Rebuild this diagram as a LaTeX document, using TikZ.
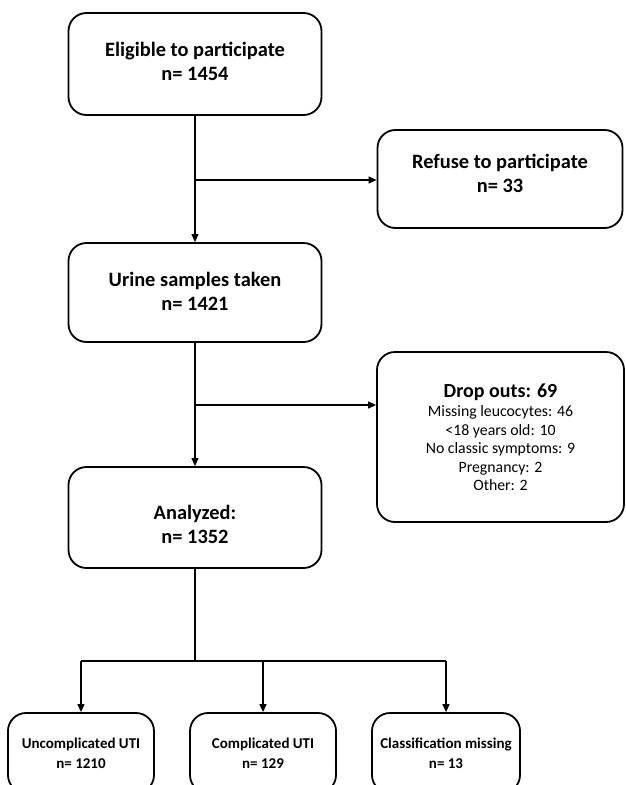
\documentclass[tikz,border=0pt]{standalone}
\usepackage{fontspec}
\setmainfont{Carlito}
\usetikzlibrary{arrows.meta}
\begin{document}
\begin{tikzpicture}[x=1pt,y=-1pt,
  box/.style={draw, line width=1.8pt, rounded corners=18pt, inner sep=0pt},
  bigtxt/.style={align=center, inner sep=0pt, font=\bfseries\fontsize{20.4}{23.5}\selectfont},
  smalltxt/.style={font=\bfseries\fontsize{15}{20}\selectfont, align=center},
  droptxt/.style={font=\fontsize{15.8}{18.5}\selectfont, align=center},
  arr/.style={-{Triangle[length=8pt,width=7pt]}, line width=1.2pt},
  ln/.style={line width=1.2pt}]
\useasboundingbox (0,0) rectangle (625,785);
\clip (0,0) rectangle (625,785);
% main column boxes
\node[box, minimum width=253pt, minimum height=102pt] (elig) at (195,64) {};
\node[box, minimum width=245pt, minimum height=98pt] (refuse) at (500,179) {};
\node[box, minimum width=253pt, minimum height=99pt] (urine) at (195,292.5) {};
\node[box, minimum width=247pt, minimum height=170pt] (drop) at (500.5,437) {};
\node[box, minimum width=253pt, minimum height=101pt] (anal) at (195,517.5) {};
% texts
\node[bigtxt] (eligT) at (195,61.5) {Eligible to participate\\n= 1454};
\node[bigtxt] (refuseT) at (500,173.5) {Refuse to participate\\n= 33};
\node[bigtxt] (urineT) at (195,291.5) {Urine samples taken\\n= 1421};
\node[droptxt] (dropT) at (500.5,437)
  {{\bfseries\fontsize{20}{24}\selectfont Drop outs: 69}\\[1pt]
   Missing leucocytes: 46\\ {<}18 years old: 10\\ No classic symptoms: 9\\ Pregnancy: 2\\ Other: 2};
\node[bigtxt] (analT) at (195,524.5) {Analyzed:\\n= 1352};
% bottom row
\node[box, smalltxt, minimum width=146pt, minimum height=80pt] (unc) at (81,753) {Uncomplicated UTI\\n= 1210};
\node[box, smalltxt, minimum width=146pt, minimum height=80pt] (comp) at (263,753) {Complicated UTI\\n= 129};
\node[box, smalltxt, minimum width=148pt, minimum height=80pt] (cls) at (446,753) {Classification missing\\n= 13};
% connectors
\coordinate (j1) at (195,180);
\coordinate (j2) at (195,405);
\coordinate (br) at (195,661);
\draw[arr] (elig.south) -- (urine.north);
\draw[arr] (j1) -- (j1 -| refuse.west);
\draw[arr] (urine.south) -- (anal.north);
\draw[arr] (j2) -- (j2 -| drop.west);
\draw[ln] (anal.south) -- (br);
\draw[ln] (unc.north |- br) -- (cls.north |- br);
\draw[arr] (unc.north |- br) -- (unc.north);
\draw[arr] (comp.north |- br) -- (comp.north);
\draw[arr] (cls.north |- br) -- (cls.north);
\end{tikzpicture}
\end{document}
